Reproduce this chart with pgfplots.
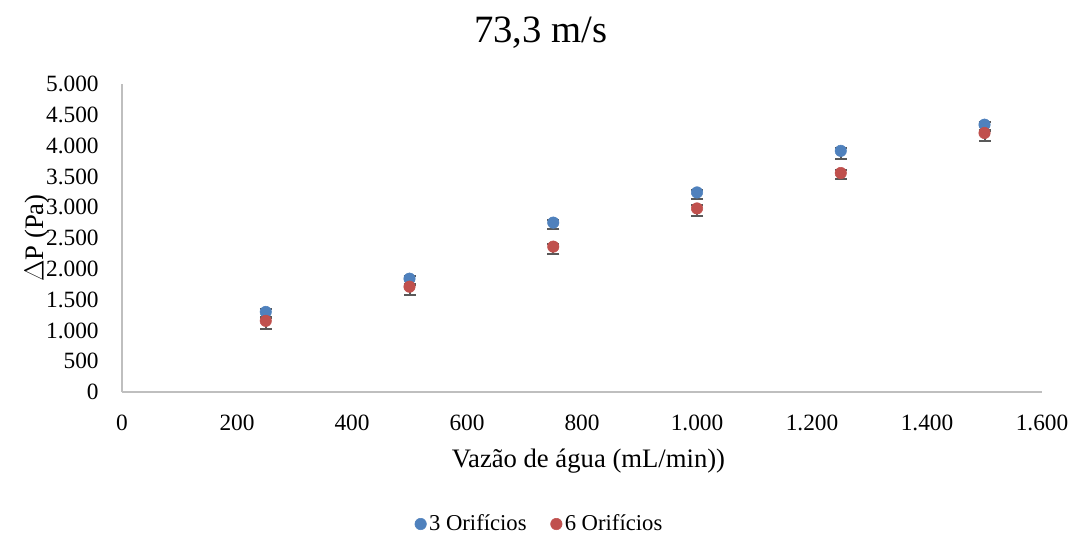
\documentclass[border=0pt]{standalone}
\usepackage{fontspec}
\setmainfont{Liberation Serif}
\usepackage{pgfplots}
\pgfplotsset{compat=1.18}
\definecolor{cblue}{HTML}{4F81BD}
\definecolor{cred}{HTML}{C0504D}
\definecolor{cerr}{HTML}{595959}
\definecolor{caxis}{HTML}{BFBFBF}
\begin{document}
\begin{tikzpicture}[x=0.75pt,y=0.75pt]
\useasboundingbox (-122,-145) rectangle (951,392);
\begin{axis}[
  at={(0,0)}, anchor=south west,
  scale only axis, width=690pt, height=231pt,
  xmin=0, xmax=1600, ymin=0, ymax=5000,
  xtick={0,200,...,1600}, ytick={0,500,...,5000},
  axis lines*=left,
  x axis line style={draw=caxis, line width=1.2pt, -},
  y axis line style={draw=caxis, line width=1.2pt, -},
  tick style={draw=none},
  /pgf/number format/assume math mode=true,
  /pgf/number format/.cd, 1000 sep={.}, use comma, fixed,
  /pgfplots/.cd,
  ticklabel style={font=\fontsize{17.5pt}{20pt}\selectfont},
  xticklabel style={anchor=center, yshift=-23pt},
  yticklabel style={anchor=east, xshift=-14pt},
  xlabel={Vazão de água (mL/min))},
  ylabel={$\Delta$P (Pa)},
  label style={font=\fontsize{20pt}{23pt}\selectfont},
  xlabel style={at={(axis description cs:0.507,-0.224)}, anchor=center},
  ylabel style={at={(axis description cs:-0.0924,0.5)}, anchor=center, rotate=0},
  title={73,3 m/s},
  title style={at={(axis description cs:0.455,1.14)}, anchor=center, font=\fontsize{29pt}{32pt}\selectfont},
  legend style={at={(axis description cs:0.4543,-0.4286)}, anchor=center, draw=none, legend columns=2, font=\fontsize{17pt}{20pt}\selectfont, /tikz/every even column/.append style={column sep=16pt}},
  legend cell align=left,
  error bars/error bar style={draw=cerr, line width=1.5pt},
  error bars/error mark options={draw=cerr, line width=1.5pt, mark size=4.5pt, rotate=90},
  clip=false,
]
\addplot[only marks, mark=*, mark size=4.3pt, color=cblue, mark options={fill=cblue, draw=cblue},
  error bars/.cd, y dir=both, y explicit]
  table[x=x, y=y, y error plus=ep, y error minus=em] {
x y ep em
250 1300 40 90
500 1840 40 100
750 2750 40 110
1000 3240 40 110
1250 3915 40 125
1500 4340 40 110
};
\addlegendentry{3 Orifícios}
\addplot[only marks, mark=*, mark size=4.3pt, color=cred, mark options={fill=cred, draw=cred},
  error bars/.cd, y dir=both, y explicit]
  table[x=x, y=y, y error plus=ep, y error minus=em] {
x y ep em
250 1155 50 130
500 1710 50 130
750 2360 50 125
1000 2980 50 130
1250 3555 50 100
1500 4205 50 125
};
\addlegendentry{6 Orifícios}
\end{axis}
\end{tikzpicture}
\end{document}
